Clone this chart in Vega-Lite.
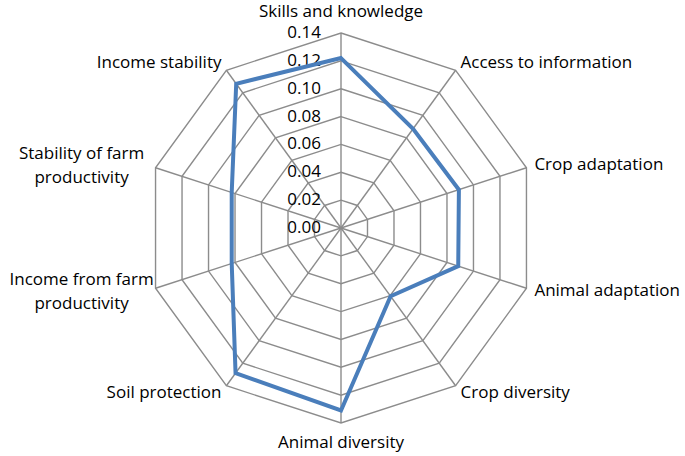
{
  "$schema": "https://vega.github.io/schema/vega-lite/v6.json",
  "width": 390,
  "height": 390,
  "autosize": {"type": "none"},
  "padding": {"left": 146, "top": 33, "right": 149, "bottom": 33},
  "background": "white",
  "config": {"view": {"stroke": null}, "font": "Open Sans", "text": {"color": "#000000"}},
  "datasets": {
    "scores": [
      {"axis": "Skills and knowledge", "i": 0, "value": 0.122},
      {"axis": "Access to information", "i": 1, "value": 0.088},
      {"axis": "Crop adaptation", "i": 2, "value": 0.089},
      {"axis": "Animal adaptation", "i": 3, "value": 0.0885},
      {"axis": "Crop diversity", "i": 4, "value": 0.0606},
      {"axis": "Animal diversity", "i": 5, "value": 0.131},
      {"axis": "Soil protection", "i": 6, "value": 0.1288},
      {"axis": "Income from farm\nproductivity", "i": 7, "value": 0.0825},
      {"axis": "Stability of farm\nproductivity", "i": 8, "value": 0.0825},
      {"axis": "Income stability", "i": 9, "value": 0.128}
    ],
    "levels": [
      {"level": 0.0, "spokes": [0, 1, 2, 3, 4, 5, 6, 7, 8, 9]},
      {"level": 0.02, "spokes": [0, 1, 2, 3, 4, 5, 6, 7, 8, 9]},
      {"level": 0.04, "spokes": [0, 1, 2, 3, 4, 5, 6, 7, 8, 9]},
      {"level": 0.06, "spokes": [0, 1, 2, 3, 4, 5, 6, 7, 8, 9]},
      {"level": 0.08, "spokes": [0, 1, 2, 3, 4, 5, 6, 7, 8, 9]},
      {"level": 0.10, "spokes": [0, 1, 2, 3, 4, 5, 6, 7, 8, 9]},
      {"level": 0.12, "spokes": [0, 1, 2, 3, 4, 5, 6, 7, 8, 9]},
      {"level": 0.14, "spokes": [0, 1, 2, 3, 4, 5, 6, 7, 8, 9]}
    ]
  },
  "layer": [
    {
      "data": {"name": "levels"},
      "transform": [
        {"filter": "datum.level > 0"},
        {"flatten": ["spokes"], "as": ["i"]},
        {"calculate": "datum.level * sin(datum.i * PI / 5)", "as": "gx"},
        {"calculate": "datum.level * cos(datum.i * PI / 5)", "as": "gy"}
      ],
      "mark": {"type": "line", "interpolate": "linear-closed", "stroke": "#8c8c8c", "strokeWidth": 1.4},
      "encoding": {
        "x": {"field": "gx", "type": "quantitative", "scale": {"domain": [-0.14, 0.14], "nice": false, "zero": false}, "axis": null},
        "y": {"field": "gy", "type": "quantitative", "scale": {"domain": [-0.14, 0.14], "nice": false, "zero": false}, "axis": null},
        "detail": {"field": "level", "type": "nominal"},
        "order": {"field": "i", "type": "quantitative"}
      }
    },
    {
      "data": {"name": "scores"},
      "transform": [
        {"calculate": "0.14 * sin(datum.i * PI / 5)", "as": "sx"},
        {"calculate": "0.14 * cos(datum.i * PI / 5)", "as": "sy"}
      ],
      "mark": {"type": "rule", "stroke": "#8c8c8c", "strokeWidth": 1.4},
      "encoding": {
        "x": {"field": "sx", "type": "quantitative", "scale": {"domain": [-0.14, 0.14], "nice": false, "zero": false}, "axis": null},
        "y": {"field": "sy", "type": "quantitative", "scale": {"domain": [-0.14, 0.14], "nice": false, "zero": false}, "axis": null},
        "x2": {"datum": 0},
        "y2": {"datum": 0}
      }
    },
    {
      "data": {"name": "levels"},
      "mark": {"type": "text", "align": "right", "baseline": "middle", "dx": -20, "fontSize": 17},
      "encoding": {
        "x": {"datum": 0, "type": "quantitative", "scale": {"domain": [-0.14, 0.14], "nice": false, "zero": false}, "axis": null},
        "y": {"field": "level", "type": "quantitative", "scale": {"domain": [-0.14, 0.14], "nice": false, "zero": false}, "axis": null},
        "text": {"field": "level", "type": "quantitative", "format": ".2f"}
      }
    },
    {
      "data": {"name": "scores"},
      "transform": [
        {"calculate": "datum.value * sin(datum.i * PI / 5)", "as": "px"},
        {"calculate": "datum.value * cos(datum.i * PI / 5)", "as": "py"}
      ],
      "mark": {"type": "line", "interpolate": "linear-closed", "stroke": "#4a7ebb", "strokeWidth": 4, "strokeJoin": "miter"},
      "encoding": {
        "x": {"field": "px", "type": "quantitative", "scale": {"domain": [-0.14, 0.14], "nice": false, "zero": false}, "axis": null},
        "y": {"field": "py", "type": "quantitative", "scale": {"domain": [-0.14, 0.14], "nice": false, "zero": false}, "axis": null},
        "order": {"field": "i", "type": "quantitative"}
      }
    },
    {
      "data": {"name": "scores"},
      "transform": [
        {"calculate": "0.146 * sin(datum.i * PI / 5)", "as": "lx"},
        {"calculate": "0.146 * cos(datum.i * PI / 5)", "as": "ly"}
      ],
      "layer": [
        {
          "transform": [{"filter": "datum.i >= 1 && datum.i <= 4"}],
          "mark": {"type": "text", "align": "left", "baseline": "middle", "fontSize": 17}
        },
        {
          "transform": [{"filter": "datum.i == 6 || datum.i == 9"}],
          "mark": {"type": "text", "align": "right", "baseline": "middle", "fontSize": 17}
        },
        {
          "transform": [{"filter": "datum.i == 7 || datum.i == 8"}],
          "mark": {"type": "text", "align": "center", "baseline": "middle", "dx": -66, "dy": -11, "fontSize": 17, "lineHeight": 24, "lineBreak": "\n"}
        },
        {
          "transform": [{"filter": "datum.i == 0"}],
          "mark": {"type": "text", "align": "center", "baseline": "alphabetic", "dy": -8, "fontSize": 17}
        },
        {
          "transform": [{"filter": "datum.i == 5"}],
          "mark": {"type": "text", "align": "center", "baseline": "top", "dy": 4, "fontSize": 17}
        }
      ],
      "encoding": {
        "x": {"field": "lx", "type": "quantitative", "scale": {"domain": [-0.14, 0.14], "nice": false, "zero": false}, "axis": null},
        "y": {"field": "ly", "type": "quantitative", "scale": {"domain": [-0.14, 0.14], "nice": false, "zero": false}, "axis": null},
        "text": {"field": "axis", "type": "nominal"}
      }
    }
  ]
}
